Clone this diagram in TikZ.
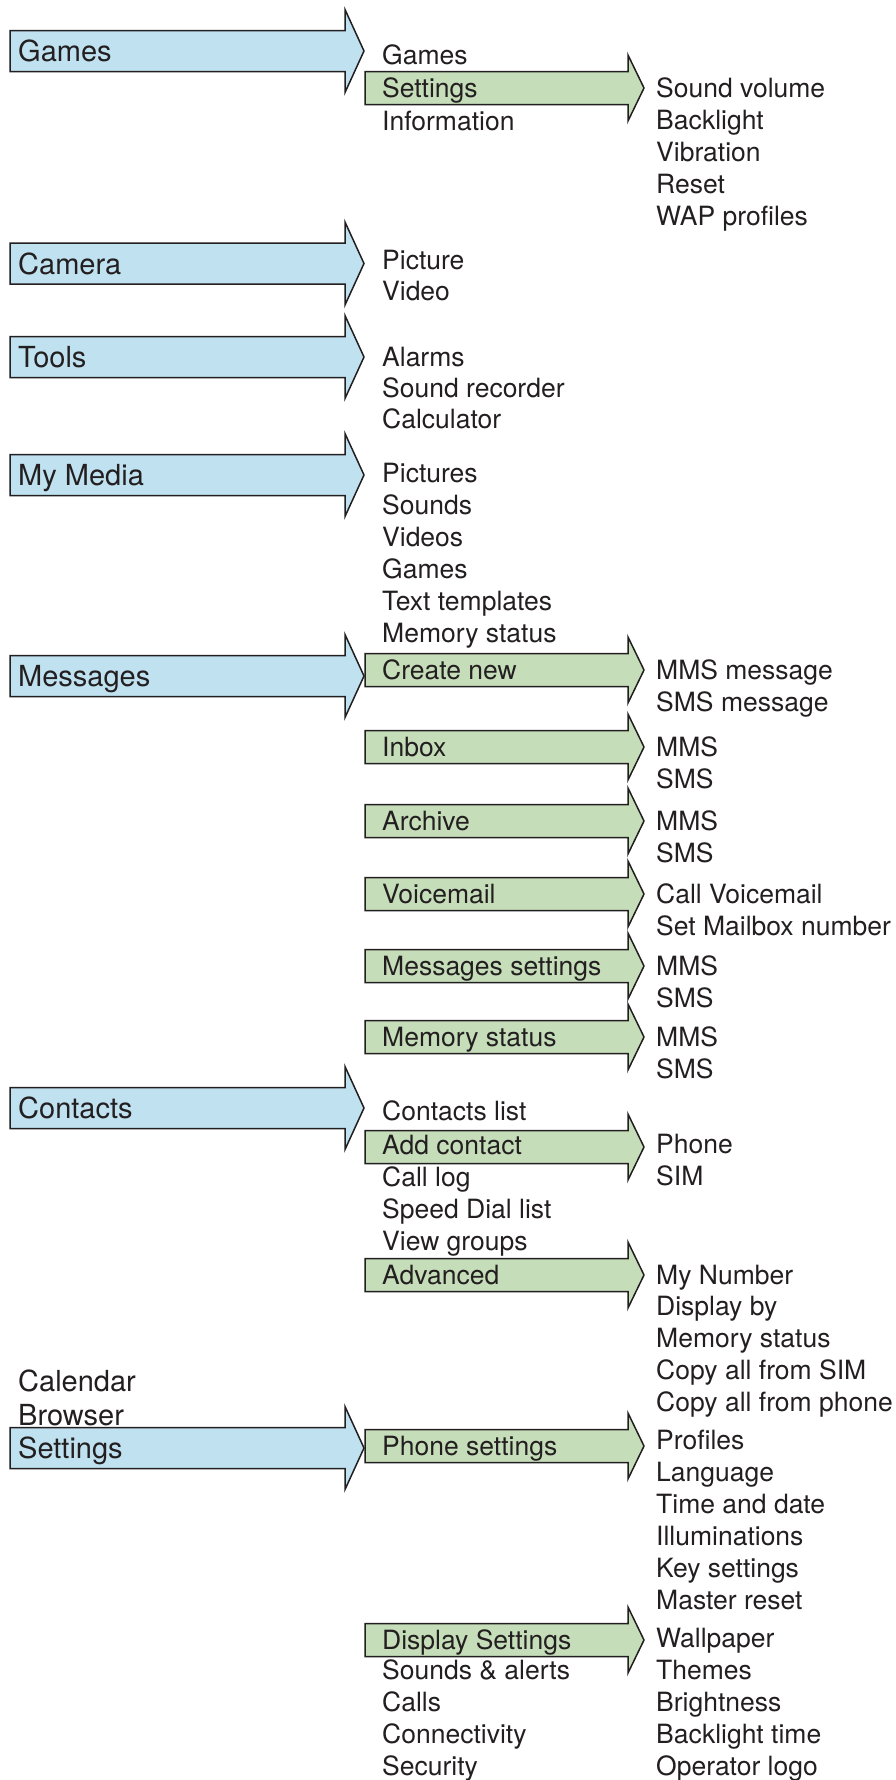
\documentclass[tikz,border=0pt]{standalone}
\usepackage{fontspec}
\setmainfont{TeX Gyre Heros}
\definecolor{ink}{HTML}{231F20}
\definecolor{menublue}{HTML}{BFE1F0}
\definecolor{menugreen}{HTML}{C5DDB9}

% block arrow: style, left x, head x, tip x, centre y, half body, half head
\newcommand{\blockarrow}[7]{%
  \draw[#1] (#2,#5-#6) -- (#3,#5-#6) -- (#3,#5-#7) -- (#4,#5)
    -- (#3,#5+#7) -- (#3,#5+#6) -- (#2,#5+#6) -- cycle;}
% top-level menu arrow (blue) and sub-menu arrow (green)
\newcommand{\mainarrow}[1]{\blockarrow{mainfill}{10}{345}{364}{#1}{20.5}{41.5}}
\newcommand{\subarrow}[1]{\blockarrow{subfill}{365}{628}{644}{#1}{16.5}{33}}

\begin{document}
\begin{tikzpicture}[x=1pt,y=-1pt,
  mainfill/.style={draw=ink,line width=1.5pt,fill=menublue,line join=miter},
  subfill/.style={draw=ink,line width=1.5pt,fill=menugreen,line join=miter},
  toplabel/.style={anchor=base west,inner sep=0pt,text=ink,
    font=\fontsize{29}{34}\selectfont},
  item/.style={anchor=base west,inner sep=0pt,text=ink,
    font=\fontsize{26.5}{31}\selectfont}]
\useasboundingbox (0,0) rectangle (896,1780);

% ---- arrows ----
\mainarrow{51}
\mainarrow{263.5}
\mainarrow{357}
\mainarrow{475}
\mainarrow{676}
\mainarrow{1108}
\mainarrow{1448}

\subarrow{88}
\subarrow{670}
\subarrow{747}
\subarrow{821}
\subarrow{894}
\subarrow{966}
\subarrow{1037}
\subarrow{1147}
\subarrow{1275}
\subarrow{1446}
\subarrow{1640}

% ---- top-level menu ----
\node[toplabel] (t-games)    at (18,61)   {Games};
\node[toplabel] (t-camera)   at (18,274)  {Camera};
\node[toplabel] (t-tools)    at (18,367)  {Tools};
\node[toplabel] (t-media)    at (18,485)  {My Media};
\node[toplabel] (t-messages) at (18,686)  {Messages};
\node[toplabel] (t-contacts) at (18,1118) {Contacts};
\node[toplabel] (t-calendar) at (18,1391) {Calendar};
\node[toplabel] (t-browser)  at (18,1425) {Browser};
\node[toplabel] (t-settings) at (18,1458) {Settings};

% ---- second level ----
\node[item] (g-games)    at (382,64)  {Games};
\node[item] (g-settings) at (382,97)  {Settings};
\node[item] (g-info)     at (382,130) {Information};

\node[item] (c-picture) at (382,269) {Picture};
\node[item] (c-video)   at (382,300) {Video};

\node[item] (to-alarms)   at (382,366) {Alarms};
\node[item] (to-recorder) at (382,397) {Sound recorder};
\node[item] (to-calc)     at (382,428) {Calculator};

\node[item] (mm-pictures)  at (382,482) {Pictures};
\node[item] (mm-sounds)    at (382,514) {Sounds};
\node[item] (mm-videos)    at (382,546) {Videos};
\node[item] (mm-games)     at (382,578) {Games};
\node[item] (mm-templates) at (382,610) {Text templates};
\node[item] (mm-memory)    at (382,642) {Memory status};

\node[item] (ms-create)   at (382,679)  {Create new};
\node[item] (ms-inbox)    at (382,756)  {Inbox};
\node[item] (ms-archive)  at (382,830)  {Archive};
\node[item] (ms-voice)    at (382,903)  {Voicemail};
\node[item] (ms-settings) at (382,975)  {Messages settings};
\node[item] (ms-memory)   at (382,1046) {Memory status};

\node[item] (ct-list)     at (382,1120) {Contacts list};
\node[item] (ct-add)      at (382,1154) {Add contact};
\node[item] (ct-log)      at (382,1186) {Call log};
\node[item] (ct-speed)    at (382,1218) {Speed Dial list};
\node[item] (ct-groups)   at (382,1250) {View groups};
\node[item] (ct-advanced) at (382,1284) {Advanced};

\node[item] (st-phone)    at (382,1455) {Phone settings};
\node[item] (st-display)  at (382,1649) {Display Settings};
\node[item] (st-sounds)   at (382,1679) {Sounds \& alerts};
\node[item] (st-calls)    at (382,1711) {Calls};
\node[item] (st-connect)  at (382,1743) {Connectivity};
\node[item] (st-security) at (382,1775) {Security};

% ---- third level ----
\node[item] (gs-volume)    at (656,97)  {Sound volume};
\node[item] (gs-backlight) at (656,129) {Backlight};
\node[item] (gs-vibration) at (656,161) {Vibration};
\node[item] (gs-reset)     at (656,193) {Reset};
\node[item] (gs-wap)       at (656,225) {WAP profiles};

\node[item] (cn-mms) at (656,679) {MMS message};
\node[item] (cn-sms) at (656,711) {SMS message};
\node[item] (ib-mms) at (656,756) {MMS};
\node[item] (ib-sms) at (656,788) {SMS};
\node[item] (ar-mms) at (656,830) {MMS};
\node[item] (ar-sms) at (656,862) {SMS};
\node[item] (vm-call) at (656,903) {Call Voicemail};
\node[item] (vm-set)  at (656,935) {Set Mailbox number};
\node[item] (mst-mms) at (656,975)  {MMS};
\node[item] (mst-sms) at (656,1007) {SMS};
\node[item] (mem-mms) at (656,1046) {MMS};
\node[item] (mem-sms) at (656,1078) {SMS};

\node[item] (ac-phone) at (656,1153) {Phone};
\node[item] (ac-sim)   at (656,1185) {SIM};

\node[item] (ad-number)  at (656,1284) {My Number};
\node[item] (ad-display) at (656,1315) {Display by};
\node[item] (ad-memory)  at (656,1347) {Memory status};
\node[item] (ad-sim)     at (656,1379) {Copy all from SIM};
\node[item] (ad-phone)   at (656,1411) {Copy all from phone};

\node[item] (ps-profiles) at (656,1449) {Profiles};
\node[item] (ps-language) at (656,1481) {Language};
\node[item] (ps-time)     at (656,1513) {Time and date};
\node[item] (ps-illum)    at (656,1545) {Illuminations};
\node[item] (ps-keys)     at (656,1577) {Key settings};
\node[item] (ps-reset)    at (656,1609) {Master reset};

\node[item] (ds-wallpaper)  at (656,1647) {Wallpaper};
\node[item] (ds-themes)     at (656,1679) {Themes};
\node[item] (ds-bright)     at (656,1711) {Brightness};
\node[item] (ds-backlight)  at (656,1743) {Backlight time};
\node[item] (ds-operator)   at (656,1775) {Operator logo};
\end{tikzpicture}
\end{document}
